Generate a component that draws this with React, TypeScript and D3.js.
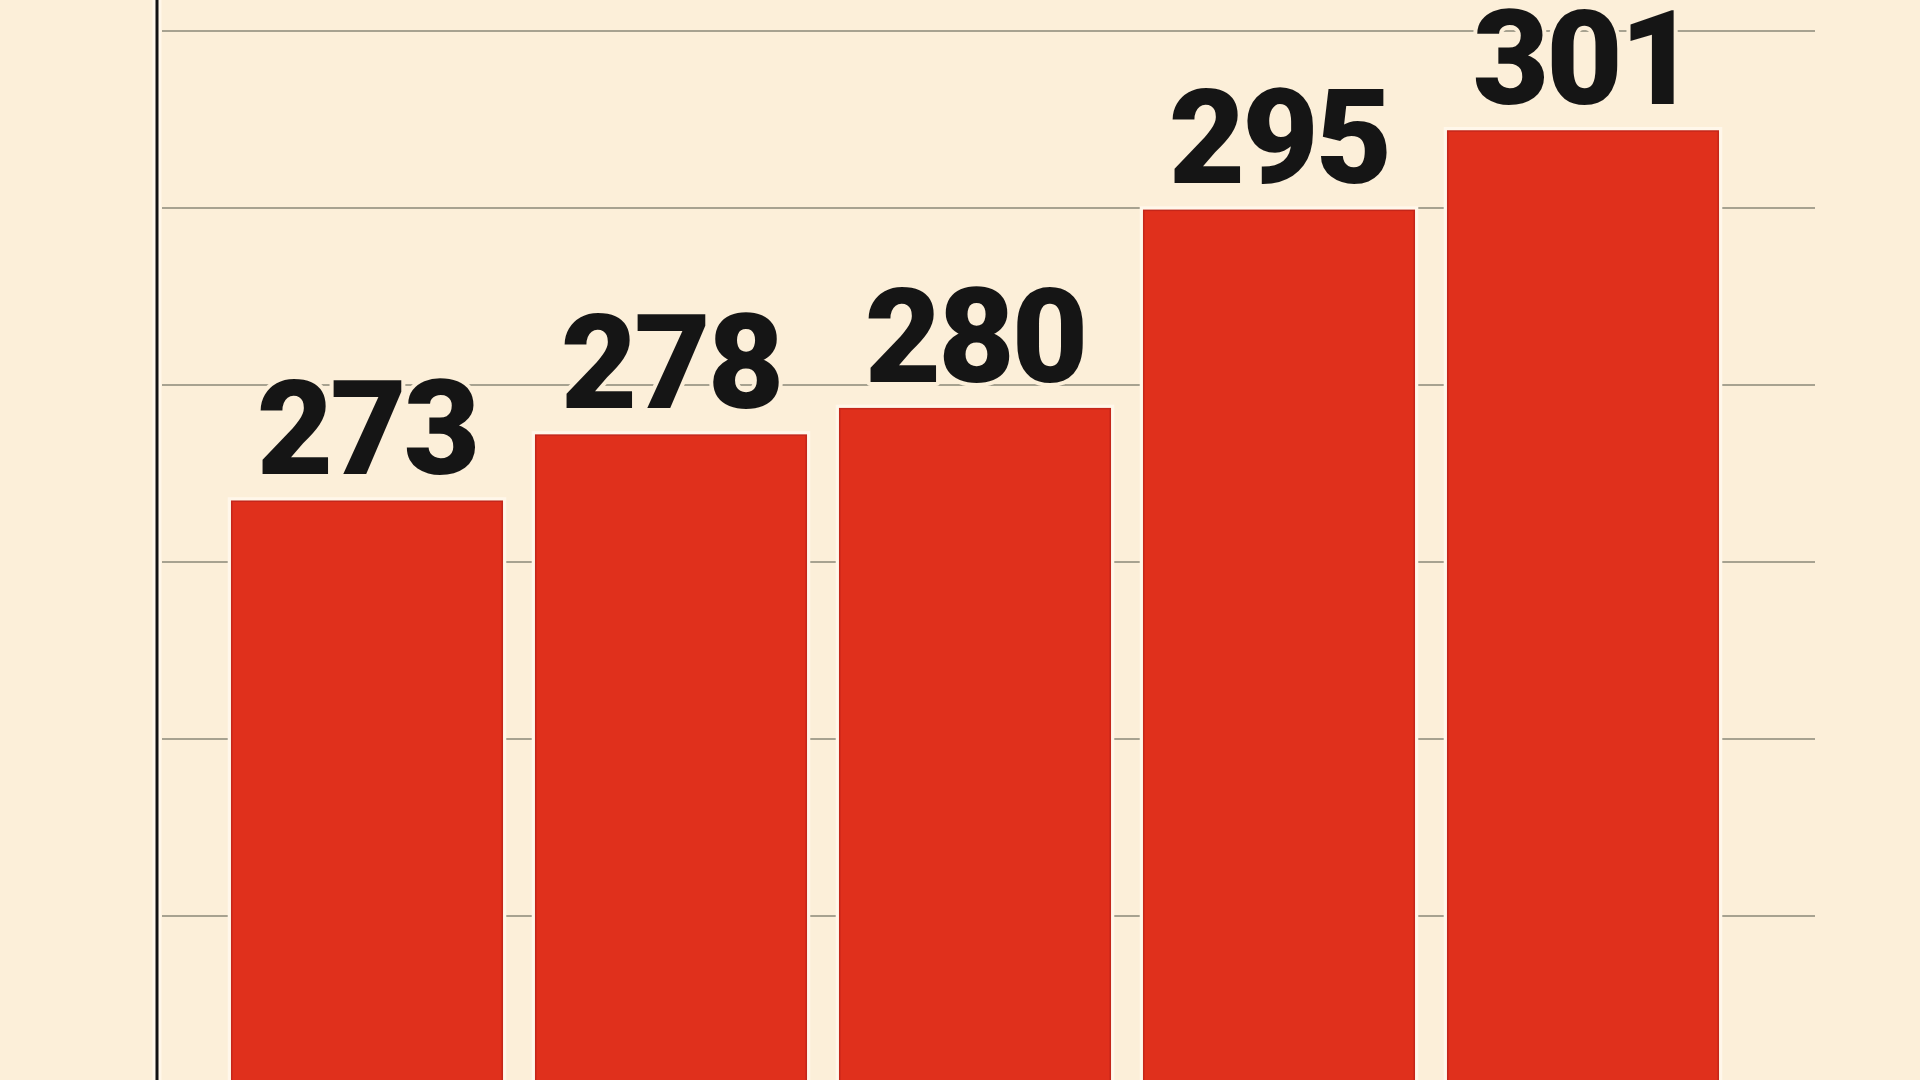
import React from "react";
import * as d3 from "d3";

// ---- data ----
const categories: string[] = ["A", "B", "C", "D", "E"];
const values: number[] = [273, 278, 280, 295, 301];
const valueLabels: string[] = ["273", "278", "280", "295", "301"];
const gridSteps: number[] = [1, 2, 3, 4, 5, 6];

// ---- layout / style ----
const W = 1920;
const H = 1080;
const BG = "#FCEFD9";
const HALO = "#FFF7EA";
const RED = "#E0301C";
const RED_EDGE = "#C4261A";
const GRID = "#A7A290";
const AXIS_X = 157;
const GRID_X0 = 162;
const GRID_X1 = 1815;
const FONT = "Roboto, 'Liberation Sans', Arial, sans-serif";

export default function App() {
  const x = d3
    .scaleBand<string>()
    .domain(categories)
    .range([215, 1735])
    .paddingInner(0.11)
    .paddingOuter(0.055);

  // truncated value axis (unlabelled in the original)
  const y = d3.scaleLinear().domain([229, 310]).range([1083, 12]);
  const yBase = y(229);

  // evenly spaced unlabelled gridlines
  const g = d3.scaleLinear().domain([0, 6]).range([1093, 31]);

  return (
    <svg
      width={W}
      height={H}
      viewBox={`0 0 ${W} ${H}`}
      style={{ position: "absolute", left: 0, top: 0, display: "block" }}
    >
      <rect x={0} y={0} width={W} height={H} fill={BG} />

      {/* gridlines */}
      {gridSteps.map((s) => (
        <line
          key={s}
          x1={GRID_X0}
          x2={GRID_X1}
          y1={g(s)}
          y2={g(s)}
          stroke={GRID}
          strokeWidth={2.2}
        />
      ))}

      {/* axis line */}
      <line x1={AXIS_X} x2={AXIS_X} y1={0} y2={H} stroke={HALO} strokeWidth={9} />
      <line x1={AXIS_X} x2={AXIS_X} y1={0} y2={H} stroke="#111" strokeWidth={3} />

      {/* bars */}
      {categories.map((c, i) => {
        const bx = x(c) as number;
        const by = y(values[i]);
        return (
          <g key={c}>
            <rect
              x={bx}
              y={by}
              width={x.bandwidth()}
              height={yBase - by + 20}
              fill="none"
              stroke={HALO}
              strokeWidth={8}
            />
            <rect
              x={bx}
              y={by}
              width={x.bandwidth()}
              height={yBase - by + 20}
              fill={RED}
              stroke={RED_EDGE}
              strokeWidth={1.5}
            />
          </g>
        );
      })}

      {/* value labels: halo then fill */}
      {categories.map((c, i) => {
        const tx = (x(c) as number) + x.bandwidth() / 2;
        const ty = y(values[i]) - 27;
        return (
          <g key={c}>
            <text
              x={tx}
              y={ty}
              textAnchor="middle"
              fontFamily={FONT}
              fontWeight={900}
              fontSize={132}
              letterSpacing={-3}
              fill={BG}
              stroke={BG}
              strokeWidth={8}
              strokeLinejoin="round"
            >
              {valueLabels[i]}
            </text>
            <text
              x={tx}
              y={ty}
              textAnchor="middle"
              fontFamily={FONT}
              fontWeight={900}
              fontSize={132}
              letterSpacing={-3}
              fill="#151515"
            >
              {valueLabels[i]}
            </text>
          </g>
        );
      })}
    </svg>
  );
}
